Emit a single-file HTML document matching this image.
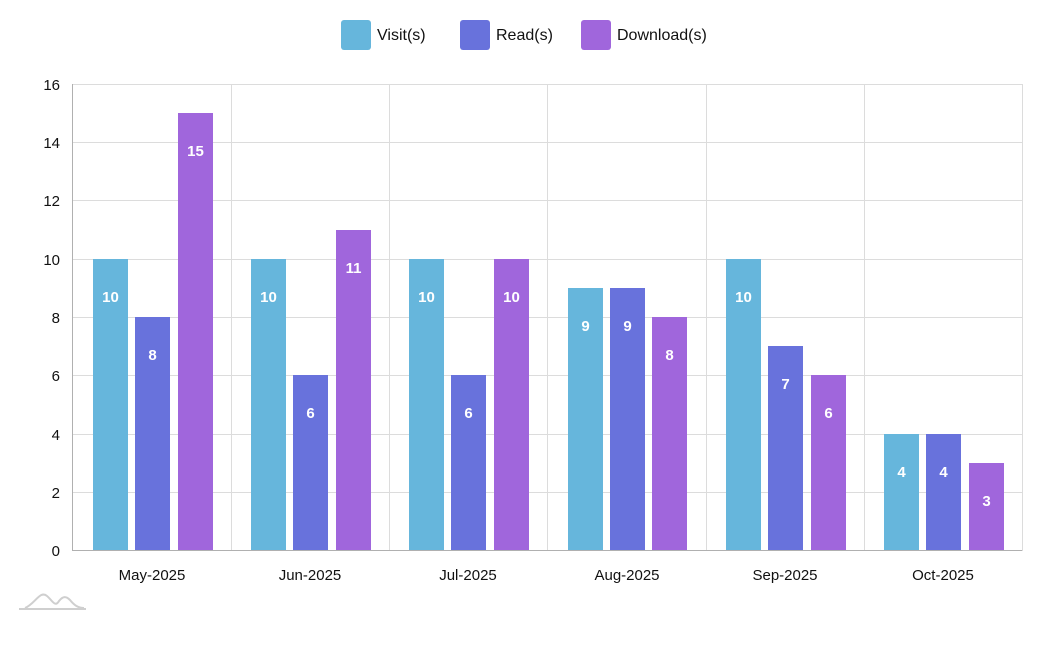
<!DOCTYPE html>
<html><head><meta charset="utf-8"><style>
html,body{margin:0;padding:0;background:#fff;}
svg{display:block;font-family:"Liberation Sans Narrow","Liberation Sans",sans-serif;}
</style></head><body>
<svg width="1047" height="646" viewBox="0 0 1047 646" xmlns="http://www.w3.org/2000/svg">
<g stroke="#dcdcdc" stroke-width="1">
<line x1="73" y1="84.5" x2="1022" y2="84.5"/>
<line x1="73" y1="142.5" x2="1022" y2="142.5"/>
<line x1="73" y1="200.5" x2="1022" y2="200.5"/>
<line x1="73" y1="259.5" x2="1022" y2="259.5"/>
<line x1="73" y1="317.5" x2="1022" y2="317.5"/>
<line x1="73" y1="375.5" x2="1022" y2="375.5"/>
<line x1="73" y1="434.5" x2="1022" y2="434.5"/>
<line x1="73" y1="492.5" x2="1022" y2="492.5"/>
<line x1="231.5" y1="84" x2="231.5" y2="551"/>
<line x1="389.5" y1="84" x2="389.5" y2="551"/>
<line x1="547.5" y1="84" x2="547.5" y2="551"/>
<line x1="706.5" y1="84" x2="706.5" y2="551"/>
<line x1="864.5" y1="84" x2="864.5" y2="551"/>
<line x1="1022.5" y1="84" x2="1022.5" y2="551"/>
</g>
<g stroke="#b0b0b0"><line x1="73" y1="550.5" x2="1022" y2="550.5"/><line x1="72.5" y1="84" x2="72.5" y2="551"/></g>
<g font-size="15" fill="#111" text-anchor="end">
<text x="60" y="90">16</text><text x="60" y="148">14</text><text x="60" y="206">12</text>
<text x="60" y="265">10</text><text x="60" y="323">8</text><text x="60" y="381">6</text>
<text x="60" y="440">4</text><text x="60" y="498">2</text><text x="60" y="556">0</text>
</g>
<g font-size="15" fill="#111" text-anchor="middle">
<text x="152" y="580">May-2025</text><text x="310" y="580">Jun-2025</text>
<text x="468" y="580">Jul-2025</text><text x="627" y="580">Aug-2025</text>
<text x="785" y="580">Sep-2025</text><text x="943" y="580">Oct-2025</text>
</g>
<g>
<rect x="93" y="259" width="35" height="291" fill="#66b6dc"/>
<rect x="135" y="317" width="35" height="233" fill="#6872dc"/>
<rect x="178" y="113" width="35" height="437" fill="#a066dc"/>
<rect x="251" y="259" width="35" height="291" fill="#66b6dc"/>
<rect x="293" y="375" width="35" height="175" fill="#6872dc"/>
<rect x="336" y="230" width="35" height="320" fill="#a066dc"/>
<rect x="409" y="259" width="35" height="291" fill="#66b6dc"/>
<rect x="451" y="375" width="35" height="175" fill="#6872dc"/>
<rect x="494" y="259" width="35" height="291" fill="#a066dc"/>
<rect x="568" y="288" width="35" height="262" fill="#66b6dc"/>
<rect x="610" y="288" width="35" height="262" fill="#6872dc"/>
<rect x="652" y="317" width="35" height="233" fill="#a066dc"/>
<rect x="726" y="259" width="35" height="291" fill="#66b6dc"/>
<rect x="768" y="346" width="35" height="204" fill="#6872dc"/>
<rect x="811" y="375" width="35" height="175" fill="#a066dc"/>
<rect x="884" y="434" width="35" height="116" fill="#66b6dc"/>
<rect x="926" y="434" width="35" height="116" fill="#6872dc"/>
<rect x="969" y="463" width="35" height="87" fill="#a066dc"/>
</g>
<g font-size="15" font-weight="bold" fill="#fff" text-anchor="middle">
<text x="110.5" y="302">10</text><text x="152.5" y="360">8</text><text x="195.5" y="156">15</text>
<text x="268.5" y="302">10</text><text x="310.5" y="418">6</text><text x="353.5" y="273">11</text>
<text x="426.5" y="302">10</text><text x="468.5" y="418">6</text><text x="511.5" y="302">10</text>
<text x="585.5" y="331">9</text><text x="627.5" y="331">9</text><text x="669.5" y="360">8</text>
<text x="743.5" y="302">10</text><text x="785.5" y="389">7</text><text x="828.5" y="418">6</text>
<text x="901.5" y="477">4</text><text x="943.5" y="477">4</text><text x="986.5" y="506">3</text>
</g>
<rect x="341" y="20" width="30" height="30" rx="3" fill="#66b6dc"/>
<rect x="460" y="20" width="30" height="30" rx="3" fill="#6872dc"/>
<rect x="581" y="20" width="30" height="30" rx="3" fill="#a066dc"/>
<g font-size="16" fill="#111">
<text x="377" y="40">Visit(s)</text><text x="496" y="40">Read(s)</text><text x="617" y="40">Download(s)</text>
</g>
<g fill="none" stroke="#cfcfcf" stroke-width="2">
<line x1="19" y1="609" x2="86" y2="609"/>
<path d="M25 608 C35 604 40 590 47 596 C52 600 55 608 59 601 C63 596 66 596 70 600 C74 605 78 608 84 608"/>
</g>
</svg>
</body></html>
